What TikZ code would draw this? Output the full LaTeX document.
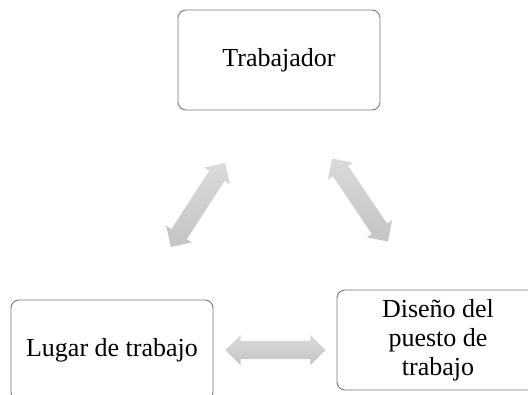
\documentclass[tikz,border=0pt]{standalone}
\usepackage{fontspec}
\setmainfont{Liberation Serif}
\usetikzlibrary{shapes.arrows}
\begin{document}
\begin{tikzpicture}[x=1pt,y=-1pt,
  box/.style={draw={rgb,255:red,120;green,120;blue,120}, line width=0.9pt, rounded corners=8pt,
    minimum width=202pt, minimum height=100pt, align=center, inner sep=0pt,
    font=\fontsize{26}{29}\selectfont},
  dbl/.style={double arrow, draw=none, minimum height=100pt, minimum width=30pt,
    double arrow head extend=6pt, inner xsep=0pt, inner ysep=9pt,
    top color={rgb,255:red,218;green,218;blue,218}, bottom color={rgb,255:red,196;green,196;blue,196}}]
\useasboundingbox (0,0) rectangle (528,394);
\node[box] (trab) at (279,60) {Trabajador};
\node[box] (lugar) at (112,350) {Lugar de trabajo};
\node[box] (dis) at (438,340) {Diseño del\\puesto de\\trabajo};
\node[dbl, rotate=57] (a1) at (198,205) {};
\node[dbl, rotate=-56] (a2) at (360,200) {};
\node[dbl] (a3) at (275.5,350) {};
\end{tikzpicture}
\end{document}
